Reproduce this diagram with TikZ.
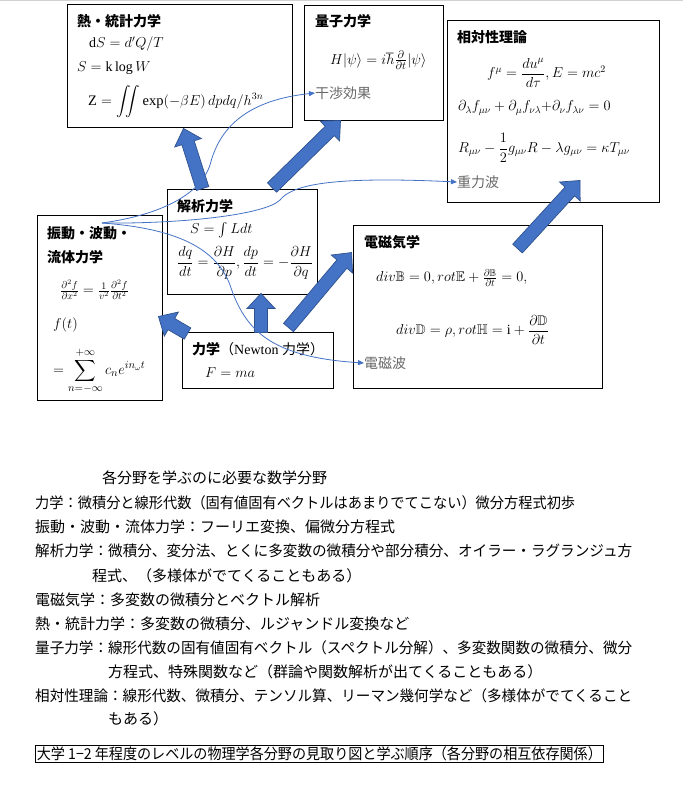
\documentclass[tikz,border=0pt]{standalone}
\usepackage{amsmath,amssymb}
\usepackage{graphicx}
\usepackage{fontspec}
\setmainfont{Liberation Serif}
\newfontfamily\jp{Noto Sans CJK JP}
\usepackage{tikz}
\usetikzlibrary{arrows.meta,calc}
\definecolor{flow}{RGB}{68,114,196}
\definecolor{flowedge}{RGB}{47,82,143}
\definecolor{note}{RGB}{105,105,105}
\newcommand\pusharrow[2]{%
  \coordinate (pb) at ($(#2)!15pt!(#1)$);
  \filldraw[fill=flow, draw=flowedge, line width=0.7pt]
    ($(#1)!6.5pt!90:(#2)$) -- ($(pb)!6.5pt!90:(#2)$) -- ($(pb)!14pt!90:(#2)$) -- (#2)
    -- ($(pb)!14pt!-90:(#2)$) -- ($(pb)!6.5pt!-90:(#2)$) -- ($(#1)!6.5pt!-90:(#2)$) -- cycle;}
\newcommand\fitline[2]{\resizebox{#1}{\height}{#2}}

\begin{document}
\begin{tikzpicture}[x=1pt, y=-1pt,
  every node/.style={font=\fontsize{14}{17}\selectfont, inner sep=0pt},
  areabox/.style args={#1x#2}{draw, line width=0.9pt, fill=white, minimum width=#1pt, minimum height=#2pt},
  title/.style={anchor=west, font=\jp\bfseries\fontsize{14}{17}\selectfont},
  eq/.style={anchor=west, font=\fontsize{#1}{#1}\selectfont},
  eq/.default=14,
  effect/.style={anchor=west, text=note, font=\jp\fontsize{14}{17}\selectfont},
  body/.style={anchor=base west, font=\jp\fontsize{15}{18}\selectfont},
  link/.style={flow, line width=0.8pt, -{Triangle[length=6pt, width=5pt]}},
]
\useasboundingbox (0,0) rectangle (683,789);
\draw[gray!35, line width=1pt] (0,1) -- (683,1);

\node[areabox=225x123] (thermo) at (179.5,65.5) {};
\node[areabox=139x115] (quantum) at (373.5,62.5) {};
\node[areabox=212x182] (rel) at (553,111) {};
\node[areabox=125x185] (vib) at (99.5,307.5) {};
\node[areabox=150x105] (anal) at (242,241.5) {};
\node[areabox=151x56] (mech) at (257.5,360) {};
\node[areabox=249x163] (em) at (477.5,306.5) {};

\node[title] (thermoT) at (77,21) {熱・統計力学};
\node[eq] (dS) at (89,44) {$\mathrm{d}S = d'Q/T$};
\node[eq] (boltz) at (77,68) {$S = \mathrm{k}\log W$};
\node[eq=14.5] (zpart) at (88,102) {$\mathrm{Z} = \displaystyle\iint \exp(-\beta E)\,dpdq/h^{3n}$};

\node[title] (quantumT) at (315,21) {量子力学};
\node[eq=15] (schr) at (330,60) {$H|\psi\rangle = i\hbar\frac{\partial}{\partial t}|\psi\rangle$};
\node[effect] (kansho) at (315,93) {干渉効果};

\node[title] (relT) at (457,37) {相対性理論};
\node[eq] (fmu) at (487,73) {$f^{\mu} = \dfrac{du^{\mu}}{d\tau}, E = mc^{2}$};
\node[eq] (field) at (458,108) {$\partial_{\lambda} f_{\mu\nu} + \partial_{\mu} f_{\nu\lambda}{+}\partial_{\nu} f_{\lambda\nu} = 0$};
\node[eq] (einst) at (458,148) {$R_{\mu\nu} - \dfrac{1}{2}g_{\mu\nu}R - \lambda g_{\mu\nu} = \kappa T_{\mu\nu}$};
\node[effect] (jyuryoku) at (457,182) {重力波};

\node[title] (vibT) at (47,233) {振動・波動・};
\node[title] (vibT2) at (47,257) {流体力学};
\node[eq=14.5] (waveq) at (60,290) {$\frac{\partial^2 f}{\partial x^2} = \frac{1}{v^2}\frac{\partial^2 f}{\partial t^2}$};
\node[eq=15] (ft) at (53,325) {$f(t)$};
\node[eq=15] (fourier) at (53,371) {$= \displaystyle\sum_{n=-\infty}^{+\infty} c_n e^{in_{\omega}t}$};

\node[title] (analT) at (177,206) {解析力学};
\node[eq] (action) at (190,230) {$S = \int L dt$};
\node[eq=13.5] (hamilton) at (177,263) {$\dfrac{dq}{dt} = \dfrac{\partial H}{\partial p}, \dfrac{dp}{dt} = -\dfrac{\partial H}{\partial q}$};

\node[eq] (mechT) at (192,349) {{\jp\bfseries 力学}{\jp （}Newton {\jp 力学）}};
\node[eq=15] (newton) at (205,373) {$F = ma$};

\node[title] (emT) at (364,242) {電磁気学};
\node[eq] (maxA) at (376,278) {$div\mathbb{B} = 0, rot\mathbb{E} + \frac{\partial\mathbb{B}}{\partial t} = 0,$};
\node[eq] (maxB) at (396,330) {$div\mathbb{D} = \rho, rot\mathbb{H} = \mathrm{i} + \dfrac{\partial\mathbb{D}}{\partial t}$};
\node[effect] (denjiha) at (364,363) {電磁波};

\pusharrow{$(mech.north west)+(6,2)$}{$(vib.east)+(-4,9)$}
\pusharrow{$(mech.north)+(3.5,1)$}{$(anal.south)+(19,-1)$}
\pusharrow{$(mech.north)+(31,-4)$}{$(em.north west)+(-1,28)$}
\pusharrow{$(anal.north west)+(36,0)$}{$(thermo.south)+(4,1)$}
\pusharrow{$(anal.north)+(30,-1)$}{$(quantum.south)+(-33,0)$}
\pusharrow{$(em.north)+(40,24)$}{$(rel.south)+(27,-22)$}

\coordinate (src) at (102,223);
\draw[link] (src) .. controls (160,215) and (200,195) .. (210,165) .. controls (220,125) and (250,100) .. (kansho.west);
\draw[link] (src) .. controls (180,224) and (265,215) .. (280,200) .. controls (292,185) and (330,176) .. (jyuryoku.west);
\draw[link] (src) .. controls (170,228) and (215,245) .. (230,285) .. controls (245,330) and (270,357) .. (denjiha.west);

\node[body] (mathT) at (102,483) {各分野を学ぶのに必要な数学分野};
\node[body] (l1) at (35,508) {\fitline{540pt}{力学：微積分と線形代数（固有値固有ベクトルはあまりでてこない）微分方程式初歩}};
\node[body] (l2) at (35,532) {振動・波動・流体力学：フーリエ変換、偏微分方程式};
\node[body] (l3) at (35,556) {\fitline{597pt}{解析力学：微積分、変分法、とくに多変数の微積分や部分積分、オイラー・ラグランジュ方}};
\node[body] (l3b) at (92,581) {程式、（多様体がでてくることもある）};
\node[body] (l4) at (35,605) {電磁気学：多変数の微積分とベクトル解析};
\node[body] (l5) at (35,629) {熱・統計力学：多変数の微積分、ルジャンドル変換など};
\node[body] (l6) at (35,653) {\fitline{597pt}{量子力学：線形代数の固有値固有ベクトル（スペクトル分解）、多変数関数の微積分、微分}};
\node[body] (l6b) at (108,677) {方程式、特殊関数など（群論や関数解析が出てくることもある）};
\node[body] (l7) at (35,701) {\fitline{597pt}{相対性理論：線形代数、微積分、テンソル算、リーマン幾何学など（多様体がでてくること}};
\node[body] (l7b) at (108,724) {もある）};
\node[body, anchor=west, draw, line width=0.8pt, inner sep=1.5pt] (caption) at (35,754) {\fitline{565pt}{大学 1−2 年程度のレベルの物理学各分野の見取り図と学ぶ順序（各分野の相互依存関係）}};
\end{tikzpicture}
\end{document}
